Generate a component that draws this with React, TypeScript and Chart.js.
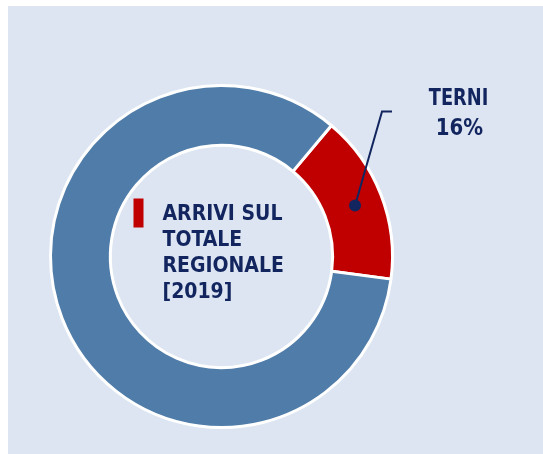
import React, { useEffect, useRef } from "react";
import { Chart, registerables } from "chart.js";

Chart.register(...registerables);

const categories = ["TERNI", "ALTRE PROVINCE"];
const values = [16, 84];
const sliceColors = ["#c00000", "#4f7ca8"];
const centerLines = ["ARRIVI SUL", "TOTALE", "REGIONALE", "[2019]"];

const NAVY = "#12255f";

const overlayPlugin = {
  id: "overlay",
  afterDraw(chart: any) {
    const ctx = chart.ctx;
    const meta = chart.getDatasetMeta(0);
    const arc = meta.data[0];
    if (!arc) return;
    const cx = arc.x;
    const cy = arc.y;
    const p0 = arc.tooltipPosition();
    const p = { x: p0.x + 2, y: p0.y };
    ctx.save();
    // leader line
    const ex = p.x + 27;
    const ey = p.y - 94;
    ctx.strokeStyle = NAVY;
    ctx.lineWidth = 2;
    ctx.beginPath();
    ctx.moveTo(p.x, p.y);
    ctx.lineTo(ex, ey);
    ctx.lineTo(ex + 10, ey);
    ctx.stroke();
    ctx.fillStyle = NAVY;
    ctx.beginPath();
    ctx.arc(p.x, p.y, 6, 0, Math.PI * 2);
    ctx.fill();
    // label
    ctx.fillStyle = NAVY;
    ctx.textAlign = "center";
    ctx.textBaseline = "alphabetic";
    ctx.save();
    ctx.translate(cx + 237, cy - 152);
    ctx.scale(0.86, 1);
    ctx.font = "bold 23px 'DejaVu Sans Condensed', 'DejaVu Sans'";
    ctx.fillText(categories[0], 0, 0);
    ctx.restore();
    ctx.save();
    ctx.translate(cx + 238, cy - 122);
    ctx.scale(0.86, 1);
    ctx.font = "bold 23px 'DejaVu Sans'";
    ctx.fillText(values[0] + "%", 0, 0);
    ctx.restore();
    // center text
    ctx.fillStyle = "#c00000";
    ctx.fillRect(cx - 88, cy - 58, 10, 29);
    ctx.fillStyle = NAVY;
    ctx.textAlign = "left";
    ctx.font = "bold 21px 'DejaVu Sans Condensed', 'DejaVu Sans'";
    centerLines.forEach((t, i) => {
      ctx.fillText(t, cx - 59, cy - 37 + i * 26);
    });
    ctx.restore();
  },
};

export default function App() {
  const ref = useRef<HTMLCanvasElement>(null);
  useEffect(() => {
    if (!ref.current) return;
    const chart = new Chart(ref.current, {
      type: "doughnut",
      data: {
        labels: categories,
        datasets: [
          {
            data: values,
            backgroundColor: sliceColors,
            borderColor: "#ffffff",
            borderWidth: 3,
          },
        ],
      },
      options: {
        animation: false,
        responsive: false,
        rotation: 40,
        cutout: "65%",
        layout: { padding: { left: 41, right: 149, top: 78, bottom: 25 } },
        plugins: { legend: { display: false }, tooltip: { enabled: false } },
      },
      plugins: [overlayPlugin],
    });
    return () => chart.destroy();
  }, []);
  return (
    <div
      style={{
        position: "fixed",
        left: 8,
        top: 6,
        width: 535,
        height: 448,
        background: "#dce5f1",
        overflow: "hidden",
      }}
    >
      <canvas ref={ref} width={535} height={448} style={{ display: "block" }} />
    </div>
  );
}
